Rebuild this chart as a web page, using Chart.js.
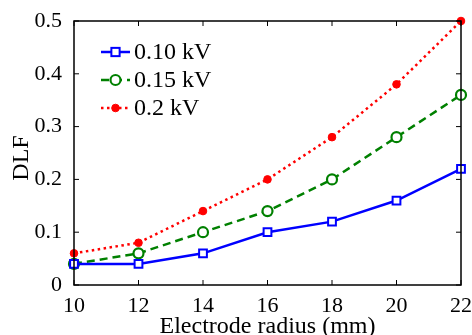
<!DOCTYPE html>
<html>
<head>
<meta charset="utf-8">
<script src="https://cdn.jsdelivr.net/npm/chart.js@4"></script>
<style>
  html, body { margin: 0; padding: 0; background: #fff; }
  #wrap { width: 472px; height: 335px; }
</style>
</head>
<body>
<div id="wrap"><canvas id="mainChart"></canvas></div>
<script>
const radius = [10, 12, 14, 16, 18, 20, 22];
const dlf010 = [0.04, 0.04, 0.06, 0.10, 0.12, 0.16, 0.22];
const dlf015 = [0.04, 0.06, 0.10, 0.14, 0.20, 0.28, 0.36];
const dlf020 = [0.06, 0.08, 0.14, 0.20, 0.28, 0.38, 0.50];
const seriesLabels = ["0.10 kV", "0.15 kV", "0.2 kV"];
const xTitle = "Electrode radius (mm)";
const yTitle = "DLF";

const FONT = "'Liberation Serif', 'Times New Roman', serif";

function toPoints(ys) {
  return radius.map((x, i) => ({ x: x, y: ys[i] }));
}

// box + inward ticks + axis titles, MATLAB style
const boxPlugin = {
  id: "box",
  afterDraw(chart) {
    const { ctx, chartArea: a, scales } = chart;
    ctx.save();
    ctx.strokeStyle = "#000";
    ctx.lineWidth = 1.5;
    ctx.strokeRect(a.left, a.top, a.right - a.left, a.bottom - a.top);
    ctx.lineWidth = 1;
    const t = 5;
    ctx.beginPath();
    scales.x.ticks.forEach((tk) => {
      const px = scales.x.getPixelForValue(tk.value);
      ctx.moveTo(px, a.bottom); ctx.lineTo(px, a.bottom - t);
      ctx.moveTo(px, a.top); ctx.lineTo(px, a.top + t);
    });
    scales.y.ticks.forEach((tk) => {
      const py = scales.y.getPixelForValue(tk.value);
      ctx.moveTo(a.left, py); ctx.lineTo(a.left + t, py);
      ctx.moveTo(a.right, py); ctx.lineTo(a.right - t, py);
    });
    ctx.stroke();

    // axis titles
    ctx.fillStyle = "#000";
    ctx.font = "24px " + FONT;
    ctx.textAlign = "center";
    ctx.textBaseline = "alphabetic";
    ctx.fillText(xTitle, (a.left + a.right) / 2, 333);
    ctx.translate(28, (a.top + a.bottom) / 2 + 5);
    ctx.rotate(-Math.PI / 2);
    ctx.fillText(yTitle, 0, 0);
    ctx.restore();
  },
};

// legend drawn inside the plot area
const legendPlugin = {
  id: "insideLegend",
  afterDatasetsDraw(chart) {
    const { ctx, chartArea: a } = chart;
    ctx.save();
    const x0 = a.left + 27, x1 = a.left + 56, xm = (x0 + x1) / 2;
    chart.data.datasets.forEach((ds, i) => {
      const y = a.top + 31 + i * 28;
      ctx.strokeStyle = ds.borderColor;
      ctx.lineWidth = ds.borderWidth;
      ctx.setLineDash(ds.borderDash || []);
      ctx.beginPath();
      ctx.moveTo(x0, y); ctx.lineTo(x1, y);
      ctx.stroke();
      ctx.setLineDash([]);
      ctx.lineWidth = ds.pointBorderWidth;
      ctx.fillStyle = ds.pointBackgroundColor;
      ctx.strokeStyle = ds.pointBorderColor;
      const r = ds.pointRadius;
      ctx.beginPath();
      if (ds.pointStyle === "rect") {
        const h = r * 0.75;
        ctx.fillRect(xm - h, y - h, h * 2, h * 2);
        ctx.strokeRect(xm - h, y - h, h * 2, h * 2);
      } else {
        ctx.arc(xm, y, r, 0, Math.PI * 2);
        ctx.fill();
        ctx.stroke();
      }
      ctx.fillStyle = "#000";
      ctx.font = "24px " + FONT;
      ctx.textBaseline = "middle";
      ctx.fillText(ds.label, x1 + 4, y + 1);
    });
    ctx.restore();
  },
};

const ctx = document.getElementById("mainChart").getContext("2d");
new Chart(ctx, {
  type: "line",
  data: {
    datasets: [
      {
        label: seriesLabels[0],
        data: toPoints(dlf010),
        borderColor: "#0000ff",
        borderWidth: 2.5,
        pointStyle: "rect",
        pointRadius: 5.5,
        pointBorderWidth: 2,
        pointBorderColor: "#0000ff",
        pointBackgroundColor: "#ffffff",
      },
      {
        label: seriesLabels[1],
        data: toPoints(dlf015),
        borderColor: "#008000",
        borderWidth: 2.5,
        borderDash: [8, 5],
        pointStyle: "circle",
        pointRadius: 5,
        pointBorderWidth: 2.2,
        pointBorderColor: "#008000",
        pointBackgroundColor: "#ffffff",
      },
      {
        label: seriesLabels[2],
        data: toPoints(dlf020),
        borderColor: "#ff0000",
        borderWidth: 2.5,
        borderDash: [2.5, 3.5],
        pointStyle: "circle",
        pointRadius: 3.8,
        pointBorderWidth: 1,
        pointBorderColor: "#ff0000",
        pointBackgroundColor: "#ff0000",
      },
    ],
  },
  options: {
    responsive: true,
    maintainAspectRatio: false,
    animation: false,
    clip: false,
    layout: { padding: { top: 21, right: 11, left: 0, bottom: 0 } },
    plugins: {
      legend: { display: false },
      tooltip: { enabled: false },
    },
    scales: {
      x: {
        type: "linear",
        min: 10,
        max: 22,
        grid: { display: false },
        border: { display: false },
        ticks: {
          stepSize: 2,
          color: "#000",
          font: { family: FONT, size: 22 },
          padding: 0,
          maxRotation: 0,
        },
        afterFit(scale) { scale.height = 50; },
      },
      y: {
        type: "linear",
        min: 0,
        max: 0.5,
        grid: { display: false },
        border: { display: false },
        ticks: {
          stepSize: 0.1,
          color: "#000",
          font: { family: FONT, size: 22 },
          padding: 4,
          callback: (v) => (v === 0 ? "0" : v.toFixed(1)),
        },
        afterFit(scale) { scale.width = 74; },
      },
    },
  },
  plugins: [boxPlugin, legendPlugin],
});
</script>
</body>
</html>
